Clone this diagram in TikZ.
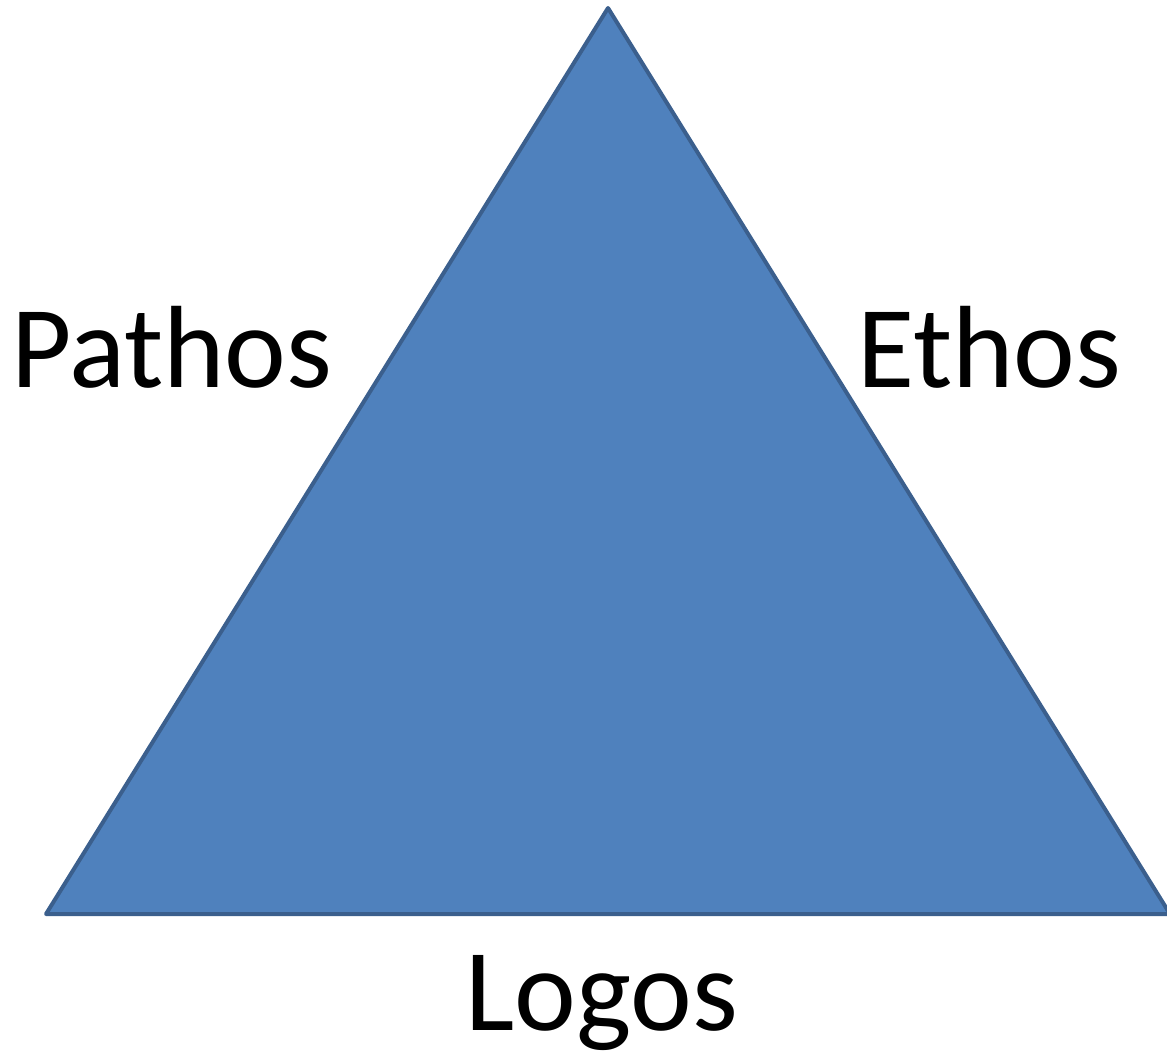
\documentclass[tikz,border=0pt]{standalone}
\usepackage{fontspec}
\setmainfont{Carlito}
\definecolor{trifill}{HTML}{4F81BD}
\definecolor{tristroke}{HTML}{3B5F8D}
\begin{document}
\begin{tikzpicture}[x=1pt,y=-1pt,
  lbl/.style={inner sep=0pt,anchor=base west,font=\fontsize{117}{130}\selectfont},
  tri/.style={fill=trifill,draw=tristroke,line width=4pt,line join=round}]
\useasboundingbox (0,0) rectangle (1167,1058);
\begin{scope}
\clip (0,0) rectangle (1167,1058);
\coordinate (top) at (608,8);
\coordinate (bl) at (46,914);
\coordinate (br) at (1170,914);
\draw[tri] (top) -- (br) -- (bl) -- cycle;
\end{scope}
\node[lbl] (pathos) at (11,387) {Pathos};
\node[lbl] (ethos) at (857,387) {Ethos};
\node[lbl] (logos) at (465,1030) {Logos};
\end{tikzpicture}
\end{document}
